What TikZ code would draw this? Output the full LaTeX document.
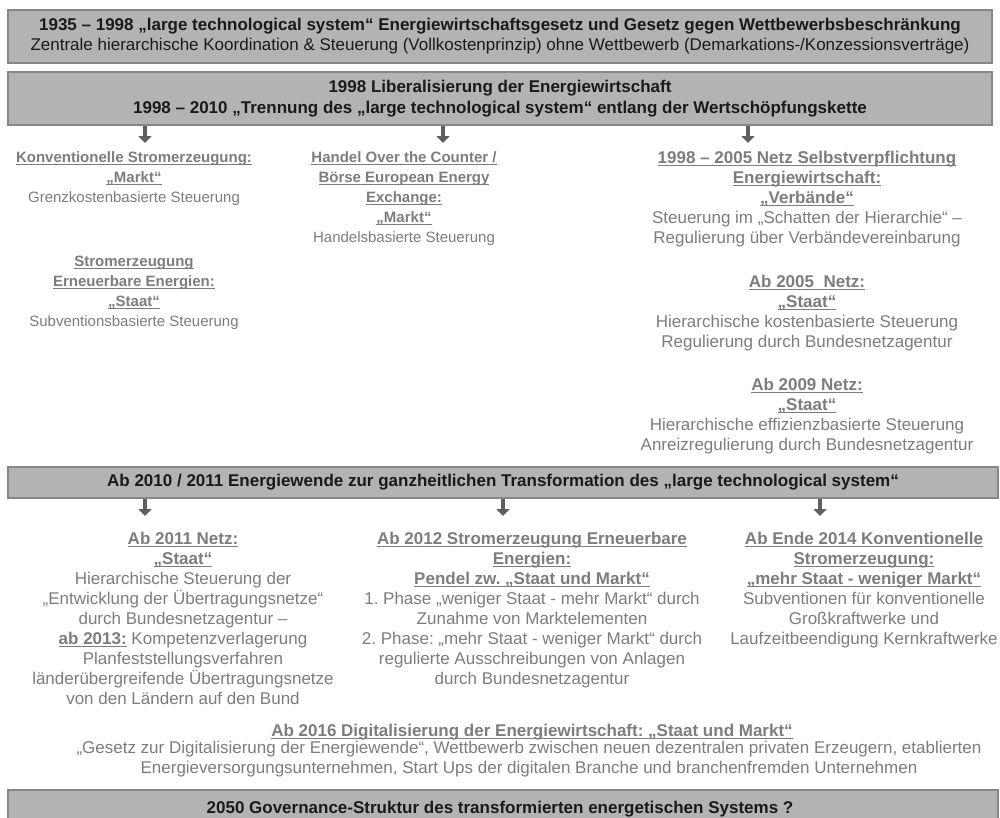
\documentclass[tikz,border=0pt]{standalone}
\usepackage{fontspec}
\setmainfont{Liberation Sans}
\usetikzlibrary{arrows.meta}
\definecolor{boxfill}{HTML}{B3B3B3}
\definecolor{boxline}{HTML}{878787}
\definecolor{txtgray}{HTML}{7D7D7D}
\definecolor{titletxt}{HTML}{1A1A1A}
\definecolor{arrowgray}{HTML}{5F5F5F}
\newsavebox\ulnbox
\newcommand\uln[1]{\leavevmode\sbox\ulnbox{#1}\rlap{\rule[-2.4pt]{\wd\ulnbox}{0.9pt}}\usebox\ulnbox}
\newcommand\hd[1]{\uln{\textbf{#1}}}
\frenchspacing
\tikzset{
  bandbox/.style={draw=boxline, fill=boxfill, line width=1.3pt, minimum width=984pt,
    align=center, text=titletxt, inner sep=0pt, font=\fontsize{17}{20}\selectfont},
  colnode/.style={align=center, anchor=north, text=txtgray, inner sep=0pt,
    font=\fontsize{17}{20}\selectfont, execute at begin node={\rule{0pt}{16pt}}},
  smallcol/.style={colnode, font=\fontsize{15}{20}\selectfont},
  bigarrow/.style={draw=arrowgray, line width=4.5pt, -{Triangle[width=13pt,length=7pt]}}
}
\begin{document}
\begin{tikzpicture}[x=1pt,y=-1pt]
\useasboundingbox (0,0) rectangle (1000,817);
\clip (0,0) rectangle (1000,817);
\fill[white] (0,0) rectangle (1000,817);

% Band 1
\node[bandbox, minimum height=53pt] (b1) at (500,36.5)
  {\textbf{1935 – 1998 „large technological system“ Energiewirtschaftsgesetz und Gesetz gegen Wettbewerbsbeschränkung}\\
   Zentrale hierarchische Koordination \& Steuerung (Vollkostenprinzip) ohne Wettbewerb (Demarkations-/Konzessionsverträge)};

% Band 2
\node[bandbox, minimum height=53pt, font=\fontsize{17}{21}\selectfont] (b2) at (500,98.5)
  {\textbf{1998 Liberalisierung der Energiewirtschaft}\\
   \textbf{1998 – 2010 „Trennung des „large technological system“ entlang der Wertschöpfungskette}};

\coordinate (e1) at (145,143);
\coordinate (e2) at (443,143);
\coordinate (e3) at (748,143);
\draw[bigarrow] (b2.south -| e1) -- (e1);
\draw[bigarrow] (b2.south -| e2) -- (e2);
\draw[bigarrow] (b2.south -| e3) -- (e3);

\node[smallcol] (k1) at (134,151)
  {\hd{Konventionelle Stromerzeugung:}\\ \hd{„Markt“}\\ Grenzkostenbasierte Steuerung};
\node[smallcol] (k2) at (134,256)
  {\hd{Stromerzeugung}\\ \hd{Erneuerbare Energien:}\\ \hd{„Staat“}\\ Subventionsbasierte Steuerung};
\node[smallcol] (h1) at (404,151)
  {\hd{Handel Over the Counter /}\\ \hd{Börse European Energy}\\ \hd{Exchange:}\\ \hd{„Markt“}\\ Handelsbasierte Steuerung};
\node[colnode] (n1) at (807,151)
  {\hd{1998 – 2005 Netz Selbstverpflichtung}\\ \hd{Energiewirtschaft:}\\ \hd{„Verbände“}\\
   Steuerung im „Schatten der Hierarchie“ –\\ Regulierung über Verbändevereinbarung};
\node[colnode] (n2) at (807,275)
  {\hd{Ab 2005\ \ Netz:}\\ \hd{„Staat“}\\ Hierarchische kostenbasierte Steuerung\\ Regulierung durch Bundesnetzagentur};
\node[colnode] (n3) at (807,378)
  {\hd{Ab 2009 Netz:}\\ \hd{„Staat“}\\ Hierarchische effizienzbasierte Steuerung\\ Anreizregulierung durch Bundesnetzagentur};

% Band 3
\node[bandbox, minimum height=31pt, minimum width=990pt] (b3) at (503,482.5)
  {\textbf{Ab 2010 / 2011 Energiewende zur ganzheitlichen Transformation des „large technological system“}};

\coordinate (f1) at (145,516);
\coordinate (f2) at (503,516);
\coordinate (f3) at (820,516);
\draw[bigarrow] (b3.south -| f1) -- (f1);
\draw[bigarrow] (b3.south -| f2) -- (f2);
\draw[bigarrow] (b3.south -| f3) -- (f3);

\node[colnode] (m1) at (183,531.5)
  {\hd{Ab 2011 Netz:}\\ \hd{„Staat“}\\ Hierarchische Steuerung der\\ „Entwicklung der Übertragungsnetze“\\
   durch Bundesnetzagentur –\\ \hd{ab 2013:} Kompetenzverlagerung\\ Planfeststellungsverfahren\\
   länderübergreifende Übertragungsnetze\\ von den Ländern auf den Bund};
\node[colnode] (m2) at (532,531.5)
  {\hd{Ab 2012 Stromerzeugung Erneuerbare}\\ \hd{Energien:}\\ \hd{Pendel zw. „Staat und Markt“}\\
   1. Phase „weniger Staat - mehr Markt“ durch\\ Zunahme von Marktelementen\\
   2. Phase: „mehr Staat - weniger Markt“ durch\\ regulierte Ausschreibungen von Anlagen\\ durch Bundesnetzagentur};
\node[colnode] (m3) at (864,531.5)
  {\hd{Ab Ende 2014 Konventionelle}\\ \hd{Stromerzeugung:}\\ \hd{„mehr Staat - weniger Markt“}\\
   Subventionen für konventionelle\\ Großkraftwerke und\\ Laufzeitbeendigung Kernkraftwerke};

% Digitalisierung
\node[colnode] (d1) at (532,720.5)
  {\hd{Ab 2016 Digitalisierung der Energiewirtschaft: „Staat und Markt“}};
\node[colnode] (d2) at (529,740.5)
  {„Gesetz zur Digitalisierung der Energiewende“, Wettbewerb zwischen neuen dezentralen privaten Erzeugern, etablierten\\
   Energieversorgungsunternehmen, Start Ups der digitalen Branche und branchenfremden Unternehmen};

% Band 4
\node[draw=boxline, fill=boxfill, line width=1.3pt, minimum width=990pt, minimum height=40pt,
  inner sep=0pt] (b4) at (503,810) {};
\node[text=titletxt, font=\fontsize{17}{20}\selectfont\bfseries, inner sep=0pt, anchor=base] (t4) at (500,813)
  {2050 Governance-Struktur des transformierten energetischen Systems ?};
\end{tikzpicture}
\end{document}
